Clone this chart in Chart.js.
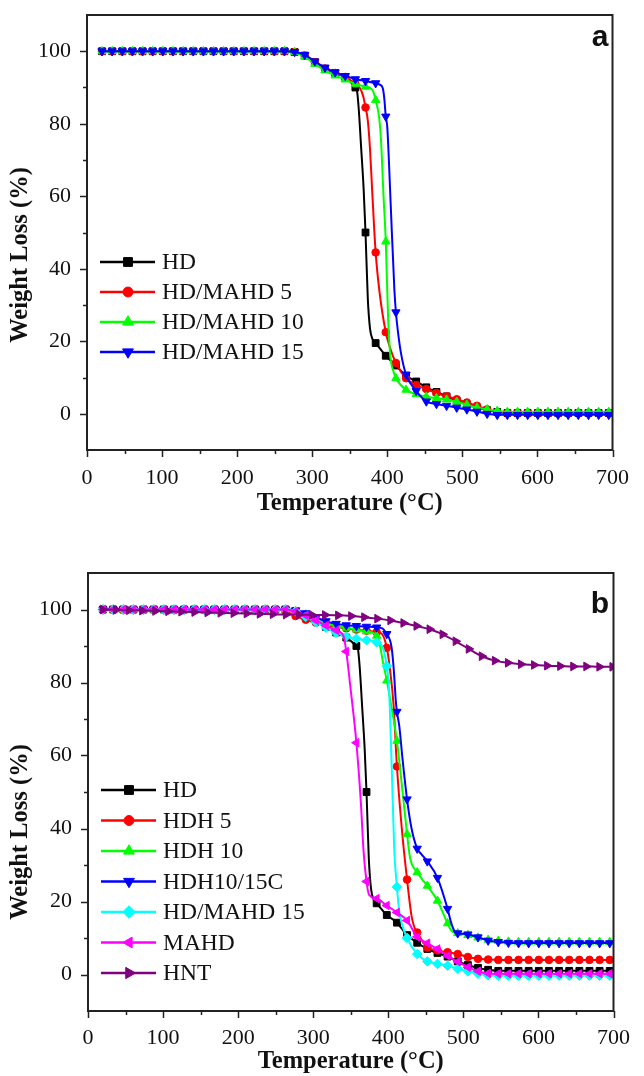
<!DOCTYPE html>
<html>
<head>
<meta charset="utf-8">
<script src="https://cdn.jsdelivr.net/npm/chart.js@4.4.0/dist/chart.umd.min.js"></script>
<style>
  html, body { margin: 0; padding: 0; background: #fff; }
  .panel { position: absolute; left: 0; width: 644px; height: 538px; }
  #panelA { top: 0; }
  #panelB { top: 538px; }
</style>
</head>
<body>
<div class="panel" id="panelA"><canvas id="chartA" width="644" height="538"></canvas></div>
<div class="panel" id="panelB"><canvas id="chartB" width="644" height="538"></canvas></div>
<script>
// TGA curves. Each curve has a value at every marker
// temperature, plus a few extra readings (*Knee) where it drops steeply.
const temps = [20, 33.5, 47, 60.5, 74, 87.5, 101, 114.5, 128, 141.5,
    155, 168.5, 182, 195.5, 209, 222.5, 236, 249.5, 263, 276.5,
    290, 303.5, 317, 330.5, 344, 357.5, 371, 384.5, 398, 411.5,
    425, 438.5, 452, 465.5, 479, 492.5, 506, 519.5, 533, 546.5,
    560, 573.5, 587, 600.5, 614, 627.5, 641, 654.5, 668, 681.5, 695];
const tempsHNT = [20, 37.4, 54.8, 72.2, 89.6, 107, 124.4, 141.8, 159.2, 176.6,
    194, 211.4, 228.8, 246.2, 263.6, 281, 298.4, 315.8, 333.2, 350.6,
    368, 385.4, 402.8, 420.2, 437.6, 455, 472.4, 489.8, 507.2, 524.6,
    542, 559.4, 576.8, 594.2, 611.6, 629, 646.4, 663.8, 681.2, 698.6];
const xTicks = [0, 100, 200, 300, 400, 500, 600, 700];
const yTicks = [0, 20, 40, 60, 80, 100];

// panel a
const hdA = [100, 100, 100, 100, 100, 100, 100, 100, 100, 100,
    100, 100, 100, 100, 100, 100, 100, 100, 100, 99.8,
    98.8, 97.0, 95.2, 94.0, 92.9, 90.0, 50.0, 19.5, 16.0, 13.3,
    10.5, 8.9, 7.3, 6.0, 4.8, 3.6, 2.6, 1.7, 1.0, 0.5,
    0.2, 0.2, 0.2, 0.2, 0.2, 0.2, 0.2, 0.2, 0.2, 0.2, 0.2];
const hdAKnee = [[359.5, 89.3], [362, 84], [365, 74], [368.5, 62], [374, 32], [377, 23.5], [380.5, 20.5]];
const mahd5 = [100, 100, 100, 100, 100, 100, 100, 100, 100, 100,
    100, 100, 100, 100, 100, 100, 100, 100, 100, 99.8,
    98.8, 97.0, 95.2, 94.0, 92.9, 91.0, 84.5, 44.5, 22.5, 14.0,
    9.8, 7.9, 6.8, 5.7, 4.8, 4.0, 3.1, 2.2, 1.2, 0.4,
    0.1, 0.1, 0.1, 0.1, 0.1, 0.1, 0.1, 0.1, 0.1, 0.1, 0.1];
const mahd5Knee = [[364, 89.7], [368, 87.5], [374, 81], [377, 73], [380, 61], [390, 33], [404, 18]];
const mahd10 = [100, 100, 100, 100, 100, 100, 100, 100, 100, 100,
    100, 100, 100, 100, 100, 100, 100, 100, 100, 99.8,
    98.5, 96.5, 94.7, 93.3, 92.2, 91.0, 90.2, 86.5, 47.5, 9.8,
    6.6, 5.4, 4.7, 4.3, 3.9, 3.3, 2.5, 1.7, 1.2, 0.8,
    0.5, 0.5, 0.5, 0.5, 0.5, 0.5, 0.5, 0.5, 0.5, 0.5, 0.5];
const mahd10Knee = [[378, 89.8], [381.5, 88.8], [389, 82], [391.5, 76], [395, 60], [401, 27], [404, 16], [408.5, 11.5]];
const mahd15 = [100, 100, 100, 100, 100, 100, 100, 100, 100, 100,
    100, 100, 100, 100, 100, 100, 100, 100, 100, 99.8,
    99.0, 97.2, 95.5, 94.2, 93.2, 92.3, 91.8, 91.2, 82.0, 28.0,
    10.8, 6.3, 3.4, 2.7, 2.2, 1.7, 1.2, 0.6, 0.0, -0.3,
    -0.3, -0.3, -0.3, -0.3, -0.3, -0.3, -0.3, -0.3, -0.3, -0.3, -0.3];
const mahd15Knee = [[390, 90.8], [394, 89.8], [396, 87], [400, 79], [404.5, 58], [409.5, 34], [414, 23], [418, 17]];

// panel b
const hdB = [100, 100, 100, 100, 100, 100, 100, 100, 100, 100,
    100, 100, 100, 100, 100, 100, 100, 100, 100, 99.5,
    98.2, 96.8, 95.2, 93.7, 92.3, 90.0, 50.0, 19.5, 16.3, 14.2,
    10.8, 8.7, 7.0, 5.9, 4.9, 3.6, 2.6, 1.8, 1.3, 1.0,
    1.0, 1.0, 1.0, 1.0, 1.0, 1.0, 1.0, 1.0, 1.0, 1.0, 1.0];
const hdBKnee = [[359.5, 89.3], [362, 84], [365, 74], [368.5, 62], [374, 32], [377, 23.5], [380.5, 20.5]];
const hdh5 = [100, 100, 100, 100, 100, 100, 100, 100, 100, 100,
    100, 100, 100, 100, 100, 100, 100, 100, 99.5, 98.2,
    97.2, 96.4, 95.7, 95.2, 94.8, 94.5, 94.2, 93.8, 89.5, 57.0,
    26.0, 11.5, 7.4, 6.6, 6.1, 5.6, 4.8, 4.3, 4.1, 4.0,
    4.0, 4.0, 4.0, 4.0, 4.0, 4.0, 4.0, 4.0, 4.0, 4.0, 4.0];
const hdh5Knee = [[392, 93.2], [402, 84], [407, 74], [418, 40], [431, 16], [435, 12.8]];
const hdh10 = [100, 100, 100, 100, 100, 100, 100, 100, 100, 100,
    100, 100, 100, 100, 100, 100, 100, 100, 100, 99.6,
    98.6, 97.3, 96.3, 95.5, 95.0, 94.5, 94.0, 92.8, 80.5, 64.0,
    38.5, 28.0, 24.3, 20.2, 14.0, 11.3, 10.8, 10.1, 9.5, 9.2,
    9.0, 8.9, 8.9, 8.9, 8.9, 8.9, 8.9, 8.9, 8.9, 8.9, 8.9];
const hdh10Knee = [[388, 91], [393, 85.5], [404.5, 73], [418, 52], [429, 32], [484, 12]];
const hdh1015c = [100, 100, 100, 100, 100, 100, 100, 100, 100, 100,
    100, 100, 100, 100, 100, 100, 100, 100, 100, 99.8,
    99.0, 97.8, 96.8, 96.1, 95.7, 95.5, 95.3, 95.1, 93.3, 72.0,
    48.0, 34.5, 31.0, 26.5, 18.0, 11.3, 11.0, 10.2, 9.3, 8.9,
    8.7, 8.6, 8.6, 8.6, 8.6, 8.6, 8.6, 8.6, 8.6, 8.6, 8.6];
const hdh1015cKnee = [[392, 94.8], [401.5, 92], [404.5, 89.5], [407.5, 83], [410, 75], [414.7, 68], [419, 59],
    [431, 40], [444, 33], [484, 14], [489, 11.6]];
const hdMahd15 = [100, 100, 100, 100, 100, 100, 100, 100, 100, 100,
    100, 100, 100, 100, 100, 100, 100, 100, 100, 99.5,
    98.0, 96.5, 95.0, 93.6, 92.6, 92.0, 91.6, 91.0, 84.5, 24.0,
    10.0, 5.6, 3.6, 2.9, 2.4, 1.6, 0.9, 0.2, -0.2, -0.3,
    -0.3, -0.3, -0.3, -0.3, -0.3, -0.3, -0.3, -0.3, -0.3, -0.3, -0.3];
const hdMahd15Knee = [[393, 89.5], [396.5, 86.5], [400.7, 79.4], [403.8, 62], [406, 47], [408, 34], [414.5, 17.5], [418, 14]];
const mahd = [100, 100, 100, 100, 100, 100, 100, 100, 100, 100,
    100, 100, 100, 100, 100, 100, 100, 100, 100, 99.5,
    98.4, 97.0, 95.6, 94.3, 88.5, 63.5, 25.5, 20.8, 18.9, 17.0,
    14.8, 10.3, 8.6, 7.0, 5.1, 3.5, 2.0, 0.9, 0.3, 0.2,
    0.2, 0.2, 0.2, 0.2, 0.2, 0.2, 0.2, 0.2, 0.2, 0.2, 0.2];
const mahdKnee = [[338, 93.5], [341, 92.3], [350.5, 77], [363.5, 47], [367, 34], [374.5, 21.8]];
const hnt = [100, 99.9, 99.8, 99.7, 99.6, 99.5, 99.4, 99.3, 99.2, 99.1,
    99.0, 98.9, 98.8, 98.7, 98.6, 98.6, 98.5, 98.5, 98.4, 98.2,
    97.9, 97.5, 97.0, 96.3, 95.5, 94.6, 93.2, 91.3, 89.2, 87.2,
    86.0, 85.4, 85.0, 84.8, 84.6, 84.5, 84.4, 84.4, 84.3, 84.3];

const serif = '"Liberation Serif", "Times New Roman", serif';

function buildPoints(xs, ys, knees) {
    const pts = xs.map((x, i) => ({ x: x, y: ys[i], m: true }));
    (knees || []).forEach(p => pts.push({ x: p[0], y: p[1], m: false }));
    return pts.sort((a, b) => a.x - b.x);
}

function curve(label, color, style, rotation, size, pts, order) {
    return {
        label: label,
        data: pts,
        borderColor: color,
        backgroundColor: color,
        borderWidth: 2,
        pointStyle: style,
        pointRotation: rotation,
        markerSize: size,
        pointRadius: ctx => (ctx.raw && ctx.raw.m ? size : 0),
        pointHoverRadius: 0,
        pointBorderWidth: 1,
        fill: false,
        cubicInterpolationMode: 'monotone',
        order: order
    };
}

// box round the plot plus outward major/minor ticks
const frameAndTicks = {
    id: 'frameAndTicks',
    afterDatasetsDraw(chart) {
        const { ctx, chartArea: a, scales: { x, y } } = chart;
        ctx.save();
        ctx.strokeStyle = '#222';
        ctx.lineWidth = 2;
        ctx.strokeRect(a.left, a.top, a.right - a.left, a.bottom - a.top);
        ctx.lineWidth = 1.5;
        ctx.beginPath();
        for (let v = 0; v <= 700; v += 50) {
            const px = Math.round(x.getPixelForValue(v)) + 0.5;
            const len = v % 100 === 0 ? 7 : 4;
            ctx.moveTo(px, a.bottom);
            ctx.lineTo(px, a.bottom + len);
        }
        for (let v = 0; v <= 100; v += 10) {
            const py = Math.round(y.getPixelForValue(v)) + 0.5;
            const len = v % 20 === 0 ? 7 : 4;
            ctx.moveTo(a.left, py);
            ctx.lineTo(a.left - len, py);
        }
        ctx.stroke();
        ctx.restore();
    }
};

// legend drawn as line + marker + label, like the original
const curveLegend = {
    id: 'curveLegend',
    afterDraw(chart, args, opts) {
        const { ctx, chartArea: a } = chart;
        ctx.save();
        ctx.font = '23.5px ' + serif;
        ctx.textBaseline = 'middle';
        chart.data.datasets.forEach((ds, i) => {
            const x = a.left + opts.left;
            const y = a.top + opts.top + i * opts.gap;
            ctx.strokeStyle = ds.borderColor;
            ctx.fillStyle = ds.borderColor;
            ctx.lineWidth = 2.5;
            ctx.beginPath();
            ctx.moveTo(x, y);
            ctx.lineTo(x + 55, y);
            ctx.stroke();
            ctx.lineWidth = 1;
            Chart.helpers.drawPoint(ctx, {
                pointStyle: ds.pointStyle,
                radius: ds.markerSize * 1.3,
                rotation: ds.pointRotation || 0,
                borderWidth: 1
            }, x + 28, y);
            ctx.fillStyle = '#111';
            ctx.fillText(ds.label, x + 62, y + 1);
        });
        ctx.restore();
    }
};

// panel letter and the y axis title
const panelText = {
    id: 'panelText',
    afterDraw(chart, args, opts) {
        const ctx = chart.ctx;
        ctx.save();
        ctx.fillStyle = '#111';
        ctx.textAlign = 'center';
        ctx.textBaseline = 'middle';
        ctx.font = 'bold 30px "Liberation Sans", Arial, sans-serif';
        ctx.fillText(opts.tag, opts.tagX, opts.tagY);
        ctx.translate(opts.titleX, opts.titleY);
        ctx.rotate(-Math.PI / 2);
        ctx.font = 'bold 24.5px ' + serif;
        ctx.fillText('Weight Loss (%)', 0, 0);
        ctx.restore();
    }
};

function makeChart(id, datasets, lay) {
    return new Chart(document.getElementById(id), {
        type: 'line',
        data: { datasets: datasets },
        options: {
            responsive: false,
            animation: false,
            layout: { padding: { top: lay.top, right: lay.right, left: 0, bottom: 0 } },
            scales: {
                x: {
                    type: 'linear',
                    min: 0,
                    max: 700,
                    afterBuildTicks: s => { s.ticks = xTicks.map(v => ({ value: v })); },
                    afterFit: s => { s.height = lay.xHeight; },
                    grid: { display: false, drawTicks: false },
                    border: { display: false },
                    ticks: {
                        padding: lay.xPad,
                        color: '#111',
                        maxRotation: 0,
                        autoSkip: false,
                        font: { family: serif, size: 22 }
                    },
                    title: {
                        display: true,
                        text: 'Temperature (°C)',
                        color: '#111',
                        font: { family: serif, size: 24.5, weight: 'bold' },
                        padding: { top: 0, bottom: lay.titlePad }
                    }
                },
                y: {
                    type: 'linear',
                    min: -10,
                    max: 110,
                    afterBuildTicks: s => { s.ticks = yTicks.map(v => ({ value: v })); },
                    afterFit: s => {
                        s.width = lay.yWidth;
                        // end labels sit well inside the axis, no extra room needed
                        s.paddingTop = 0;
                        s.paddingBottom = 0;
                    },
                    grid: { display: false, drawTicks: false },
                    border: { display: false },
                    ticks: {
                        padding: 16,
                        color: '#111',
                        font: { family: serif, size: 22 }
                    }
                }
            },
            plugins: {
                legend: { display: false },
                tooltip: { enabled: false },
                curveLegend: lay.legend,
                panelText: lay.text
            }
        },
        plugins: [frameAndTicks, curveLegend, panelText]
    });
}

makeChart('chartA', [
    curve('HD', '#000000', 'rect', 0, 4.8, buildPoints(temps, hdA, hdAKnee), 0),
    curve('HD/MAHD 5', '#ff0000', 'circle', 0, 3.8, buildPoints(temps, mahd5, mahd5Knee), -1),
    curve('HD/MAHD 10', '#00ff00', 'triangle', 0, 4.8, buildPoints(temps, mahd10, mahd10Knee), -2),
    curve('HD/MAHD 15', '#0000ff', 'triangle', 180, 4.8, buildPoints(temps, mahd15, mahd15Knee), -3)
], {
    top: 15, right: 21, yWidth: 87, xHeight: 88, xPad: 15, titlePad: 20,
    legend: { left: 13, top: 247, gap: 30 },
    text: { tag: 'a', tagX: 600, tagY: 38, titleX: 21, titleY: 255 }
});

makeChart('chartB', [
    curve('HD', '#000000', 'rect', 0, 4.8, buildPoints(temps, hdB, hdBKnee), 0),
    curve('HDH 5', '#ff0000', 'circle', 0, 3.8, buildPoints(temps, hdh5, hdh5Knee), -1),
    curve('HDH 10', '#00ff00', 'triangle', 0, 4.8, buildPoints(temps, hdh10, hdh10Knee), -2),
    curve('HDH10/15C', '#0000ff', 'triangle', 180, 4.8, buildPoints(temps, hdh1015c, hdh1015cKnee), -3),
    curve('HD/MAHD 15', '#00ffff', 'rectRot', 0, 4.8, buildPoints(temps, hdMahd15, hdMahd15Knee), -4),
    curve('MAHD', '#ff00ff', 'triangle', -90, 4.8, buildPoints(temps, mahd, mahdKnee), -5),
    curve('HNT', '#800080', 'triangle', 90, 5, buildPoints(tempsHNT, hnt), -6)
], {
    top: 35, right: 18, yWidth: 88, xHeight: 65, xPad: 14, titlePad: 0,
    legend: { left: 13, top: 217, gap: 30.5 },
    text: { tag: 'b', tagX: 600, tagY: 67, titleX: 21, titleY: 294 }
});
</script>
</body>
</html>
